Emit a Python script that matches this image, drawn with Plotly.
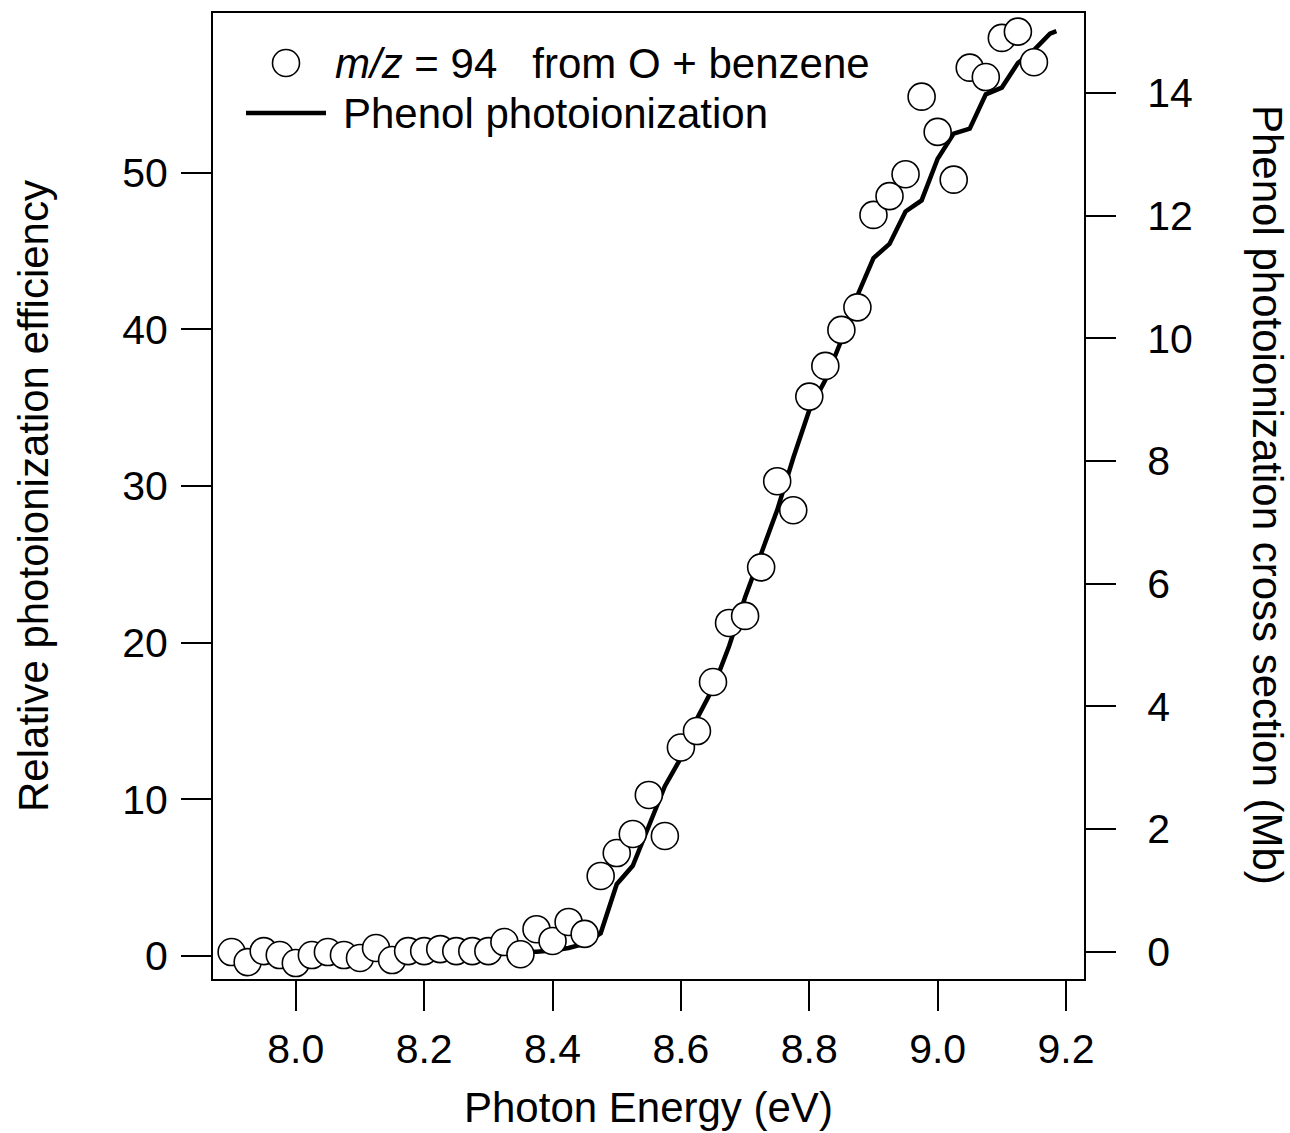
import plotly.graph_objects as go

# ---------------- data ----------------
energy_pts = [7.900, 7.925, 7.950, 7.975, 8.000, 8.025, 8.050, 8.075, 8.100, 8.125,
              8.150, 8.175, 8.200, 8.225, 8.250, 8.275, 8.300, 8.325, 8.350, 8.375,
              8.400, 8.425, 8.450, 8.475, 8.500, 8.525, 8.550, 8.575, 8.600, 8.625,
              8.650, 8.675, 8.700, 8.725, 8.750, 8.775, 8.800, 8.825, 8.850, 8.875,
              8.900, 8.925, 8.950, 8.975, 9.000, 9.025, 9.050, 9.075, 9.100, 9.125,
              9.150]
rel_eff = [0.24, -0.40, 0.30, 0.05, -0.46, 0.05, 0.24, 0.05, -0.14, 0.50,
           -0.27, 0.30, 0.30, 0.43, 0.30, 0.30, 0.30, 0.88, 0.10, 1.70,
           0.95, 2.16, 1.40, 5.10, 6.56, 7.78, 10.27, 7.65, 13.30, 14.35,
           17.48, 21.25, 21.70, 24.80, 30.30, 28.45, 35.70, 37.66, 39.96, 41.40,
           47.30, 48.50, 49.90, 54.85, 52.60, 49.55, 56.70, 56.10, 58.60, 59.00,
           57.05]

energy_line = [7.900, 7.925, 7.950, 7.975, 8.000, 8.025, 8.050, 8.075, 8.100, 8.125,
               8.150, 8.175, 8.200, 8.225, 8.250, 8.275, 8.300, 8.325, 8.350, 8.375,
               8.400, 8.425, 8.450, 8.475, 8.500, 8.525, 8.550, 8.575, 8.600, 8.625,
               8.650, 8.675, 8.700, 8.725, 8.750, 8.775, 8.800, 8.825, 8.850, 8.875,
               8.900, 8.925, 8.950, 8.975, 9.000, 9.025, 9.050, 9.075, 9.100, 9.125,
               9.150, 9.175, 9.185]
cross_section = [0.00, 0.00, 0.00, 0.00, 0.00, 0.00, 0.00, 0.00, 0.00, 0.00,
                 0.00, 0.00, 0.00, 0.00, 0.00, 0.00, 0.00, 0.00, 0.00, 0.00,
                 0.02, 0.06, 0.13, 0.30, 1.10, 1.40, 2.05, 2.70, 3.16, 3.80,
                 4.30, 4.98, 5.78, 6.50, 7.20, 8.05, 8.83, 9.32, 9.97, 10.70,
                 11.31, 11.54, 12.07, 12.25, 12.93, 13.34, 13.42, 13.98, 14.09, 14.49,
                 14.70, 14.97, 15.01]

x_ticks = [8.0, 8.2, 8.4, 8.6, 8.8, 9.0, 9.2]
x_ticktext = ["8.0", "8.2", "8.4", "8.6", "8.8", "9.0", "9.2"]
left_ticks = [0, 10, 20, 30, 40, 50]
right_ticks = [0, 2, 4, 6, 8, 10, 12, 14]

x_title = "Photon Energy (eV)"
left_title = "Relative photoionization efficiency"
right_title = "Phenol photoionization cross section (Mb)"
legend_pts = "<i>m/z</i> = 94\u00a0\u00a0\u00a0from O + benzene"
legend_line = "Phenol photoionization"

# ---------------- figure ----------------
FONT = "Liberation Sans, Arial, sans-serif"
W, H = 1290, 1133
L, R, T, B = 213, 1084, 13, 979
pw, ph = R - L, B - T


def px_x(p):
    return (p - L) / pw


def px_y(p):
    return (B - p) / ph


fig = go.Figure()
fig.add_trace(go.Scatter(
    x=energy_line, y=cross_section, mode="lines", yaxis="y",
    line=dict(color="black", width=4.5), showlegend=False,
))
fig.add_trace(go.Scatter(
    x=energy_pts, y=rel_eff, mode="markers", yaxis="y2",
    marker=dict(symbol="circle", size=27, color="white",
                line=dict(color="black", width=1.6)),
    showlegend=False, cliponaxis=False,
))

axis_common = dict(
    showline=True, linecolor="black", linewidth=2,
    ticks="outside", ticklen=30, tickwidth=2, tickcolor="black",
    showgrid=False, zeroline=False,
    tickfont=dict(family=FONT, size=41, color="black"),
)

fig.update_layout(
    width=W, height=H,
    margin=dict(l=L, r=W - R, t=T, b=H - B, pad=0),
    paper_bgcolor="white", plot_bgcolor="white",
    font=dict(family=FONT, color="black"),
    xaxis=dict(range=[7.871, 9.228], tickvals=x_ticks, ticktext=x_ticktext,
               mirror=True, ticklabelstandoff=3, **axis_common),
    yaxis=dict(range=[-0.445, 15.306], tickvals=right_ticks, side="right",
               ticklabelstandoff=23, **axis_common),
    yaxis2=dict(range=[-1.48, 60.19], tickvals=left_ticks, side="left",
                overlaying="y", ticklabelstandoff=5, **axis_common),
    showlegend=False,
)

annotations = [
    dict(text=x_title, x=0.5, y=px_y(1107), xref="paper", yref="paper",
         xanchor="center", yanchor="middle", showarrow=False,
         font=dict(family=FONT, size=42, color="black")),
    dict(text=left_title, x=px_x(33), y=px_y(496), xref="paper", yref="paper",
         xanchor="center", yanchor="middle", showarrow=False, textangle=-90,
         font=dict(family=FONT, size=42, color="black")),
    dict(text=right_title, x=px_x(1268), y=px_y(495), xref="paper", yref="paper",
         xanchor="center", yanchor="middle", showarrow=False, textangle=90,
         font=dict(family=FONT, size=42, color="black")),
    dict(text=legend_pts, x=px_x(333), y=px_y(63), xref="paper", yref="paper",
         xanchor="left", yanchor="middle", showarrow=False,
         font=dict(family=FONT, size=42, color="black")),
    dict(text=legend_line, x=px_x(341), y=px_y(113), xref="paper", yref="paper",
         xanchor="left", yanchor="middle", showarrow=False,
         font=dict(family=FONT, size=42, color="black")),
]
fig.update_layout(annotations=annotations)

shapes = [
    dict(type="circle", xref="paper", yref="paper",
         xsizemode="pixel", ysizemode="pixel",
         xanchor=px_x(286), yanchor=px_y(63),
         x0=-13.5, x1=13.5, y0=-13.5, y1=13.5,
         line=dict(color="black", width=1.6), fillcolor="white"),
    dict(type="line", xref="paper", yref="paper",
         x0=px_x(246), x1=px_x(326), y0=px_y(113), y1=px_y(113),
         line=dict(color="black", width=4.5)),
]
fig.update_layout(shapes=shapes)

fig.write_html("out.html")
